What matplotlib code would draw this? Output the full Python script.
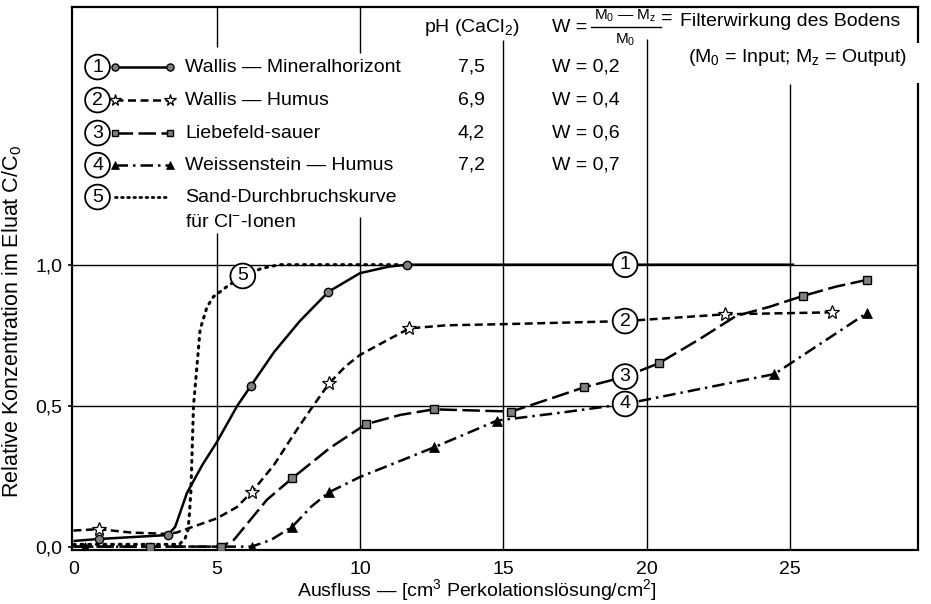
import matplotlib.pyplot as plt

plt.rcParams['font.family'] = ['Liberation Sans', 'DejaVu Sans']
plt.rcParams['mathtext.fontset'] = 'custom'
plt.rcParams['mathtext.rm'] = 'Liberation Sans'
plt.rcParams['mathtext.it'] = 'Liberation Sans'

# --- data ---
# curve traces (drawn line) and measured points (markers)
x1_line = [0, 0.88, 3.29, 3.55, 3.96, 4.5, 5.0, 5.72, 6.19, 7.0, 7.9, 8.9, 10.0, 11.0, 11.65, 25.15]
y1_line = [0.02, 0.027, 0.041, 0.07, 0.19, 0.29, 0.37, 0.5, 0.57, 0.69, 0.80, 0.904, 0.97, 0.993, 1.0, 1.0]
x1_pts = [0.88, 3.29, 6.19, 8.9, 11.65]
y1_pts = [0.027, 0.041, 0.57, 0.904, 1.0]

x2_line = [0, 0.88, 2.0, 3.3, 3.6, 4.3, 5.0, 5.7, 6.22, 7.0, 7.7, 8.3, 8.92, 9.5, 10.0, 11.0, 11.72, 13, 15, 19.25, 22.74, 26.46]
y2_line = [0.057, 0.062, 0.05, 0.045, 0.05, 0.075, 0.10, 0.14, 0.193, 0.29, 0.40, 0.49, 0.579, 0.64, 0.68, 0.735, 0.774, 0.785, 0.789, 0.80, 0.824, 0.831]
x2_pts = [0.88, 6.22, 8.92, 11.72, 22.74, 26.46]
y2_pts = [0.062, 0.193, 0.579, 0.774, 0.824, 0.831]

x3_line = [0, 2.66, 5.16, 5.6, 6.75, 7.64, 8.95, 10.2, 11.4, 12.58, 15.28, 16.5, 17.82, 19.25, 20.42, 21.8, 23.12, 24.3, 25.45, 26.6, 27.68]
y3_line = [0.0, 0.0, 0.0, 0.024, 0.166, 0.243, 0.35, 0.434, 0.467, 0.487, 0.479, 0.52, 0.565, 0.603, 0.65, 0.733, 0.818, 0.851, 0.889, 0.922, 0.946]
x3_pts = [2.66, 5.16, 7.64, 10.2, 12.58, 15.28, 17.82, 20.42, 25.45, 27.68]
y3_pts = [0.0, 0.0, 0.243, 0.434, 0.487, 0.479, 0.565, 0.65, 0.889, 0.946]

x4_line = [0, 0.4, 6.22, 6.9, 7.64, 8.3, 8.92, 10.0, 12.58, 14.78, 17.0, 19.25, 24.46, 27.68]
y4_line = [0.0, 0.0, 0.0, 0.024, 0.071, 0.142, 0.193, 0.247, 0.352, 0.447, 0.475, 0.506, 0.612, 0.828]
x4_pts = [0.4, 6.22, 7.64, 8.92, 12.58, 14.78, 24.46, 27.68]
y4_pts = [0.0, 0.0, 0.071, 0.193, 0.352, 0.447, 0.612, 0.828]

x5_line = [0, 3.7, 3.9, 4.0, 4.05, 4.1, 4.19, 4.31, 4.42, 4.66, 4.89, 5.12, 5.35, 5.91, 6.57, 7.2, 11.3]
y5_line = [0.008, 0.008, 0.03, 0.06, 0.12, 0.2, 0.5, 0.64, 0.77, 0.85, 0.887, 0.904, 0.922, 0.96, 0.987, 1.0, 1.0]

names = ['Wallis — Mineralhorizont', 'Wallis — Humus', 'Liebefeld-sauer', 'Weissenstein — Humus']
ph_values = ['7,5', '6,9', '4,2', '7,2']
w_values = ['W = 0,2', 'W = 0,4', 'W = 0,6', 'W = 0,7']
labels = ['1', '2', '3', '4', '5']
label_x = [19.25, 19.25, 19.25, 19.25, 5.91]
label_y = [1.0, 0.80, 0.603, 0.506, 0.96]

x_ticks = [0, 5, 10, 15, 20, 25]
y_ticks = [0.0, 0.5, 1.0]
y_ticklabels = ['0,0', '0,5', '1,0']

# --- styles ---
FS = 14
lw = 1.8
styles = [
    dict(ls='-', marker='o', ms=6, mfc='0.5', mec='black', mew=1.0),
    dict(ls=(0, (3.2, 1.8)), marker='*', ms=10, mfc='white', mec='black', mew=0.9),
    dict(ls=(0, (7, 2.2)), marker='s', ms=5.5, mfc='0.5', mec='black', mew=1.0),
    dict(ls=(0, (5, 2, 1, 2)), marker='^', ms=6.5, mfc='black', mec='black', mew=0.5),
]
circ = dict(boxstyle='circle,pad=0.2', fc='white', ec='black', lw=1.3)

fig = plt.figure(figsize=(9.31, 6.04), dpi=100)
ax = fig.add_axes([72 / 931, 54 / 604, 846 / 931, 543 / 604])
xmin, xmax = -0.05, 29.47
ymin, ymax = -0.012, 1.914
ax.set_xlim(xmin, xmax)
ax.set_ylim(ymin, ymax)

# grid (broken where the text sits)
ax.hlines([0.5, 1.0], xmin, xmax, color='black', lw=1.0, zorder=1)
ax.vlines([5, 10, 15, 20, 25], [ymin, ymin, ymin, ymin, ymin],
          [1.112, 1.169, 1.796, 1.80, 1.64], color='black', lw=1.0, zorder=1)
ax.vlines([5, 10], [1.772, 1.751], [ymax, ymax], color='black', lw=1.0, zorder=1)
ax.vlines([xmax, xmax], [ymin, 1.786], [1.644, ymax], color='black', lw=1.6, zorder=3, clip_on=False)

for s in ['left', 'bottom', 'top']:
    ax.spines[s].set_linewidth(1.6)
ax.spines['right'].set_visible(False)

lines_x = [x1_line, x2_line, x3_line, x4_line]
lines_y = [y1_line, y2_line, y3_line, y4_line]
pts_x = [x1_pts, x2_pts, x3_pts, x4_pts]
pts_y = [y1_pts, y2_pts, y3_pts, y4_pts]
for i in range(4):
    st = styles[i]
    ax.plot(lines_x[i], lines_y[i], color='black', lw=lw, ls=st['ls'], zorder=2,
            solid_capstyle='butt', dash_capstyle='butt')
    ax.plot(pts_x[i], pts_y[i], ls='none', marker=st['marker'], ms=st['ms'],
            mfc=st['mfc'], mec=st['mec'], mew=st['mew'], zorder=4)
ax.plot(x5_line, y5_line, color='black', lw=2.2, ls=(0, (0.6, 1.9)), zorder=2,
        dash_capstyle='round')

# circled curve labels
for lab, lx, ly in zip(labels, label_x, label_y):
    ax.text(lx, ly, lab, fontsize=FS, ha='center', va='center', zorder=5, bbox=circ)

# legend block
row_y = [1.701, 1.584, 1.467, 1.353, 1.24]
for i in range(5):
    ax.text(0.84, row_y[i], labels[i], fontsize=FS, ha='center', va='center', zorder=5, bbox=circ)
for i in range(4):
    st = styles[i]
    ax.plot([1.46, 3.38], [row_y[i], row_y[i]], color='black', lw=lw, ls=st['ls'],
            marker=st['marker'], ms=st['ms'] * 0.85, mfc=st['mfc'], mec=st['mec'], mew=st['mew'],
            zorder=4, dash_capstyle='butt')
    ax.text(3.9, row_y[i], names[i], fontsize=FS, ha='left', va='center')
    ax.text(14.36, row_y[i], ph_values[i], fontsize=FS, ha='right', va='center')
    ax.text(16.69, row_y[i], w_values[i], fontsize=FS, ha='left', va='center')
ax.plot([1.46, 3.38], [row_y[4], row_y[4]], color='black', lw=2.0, ls=(0, (0.6, 1.6)),
        dash_capstyle='round')
ax.text(3.9, row_y[4], 'Sand-Durchbruchskurve', fontsize=FS, ha='left', va='center')
ax.text(3.9, 1.15, 'für Cl$^{-}$-Ionen', fontsize=FS, ha='left', va='center')

# header: pH column and W = (M0 - Mz) / M0 = Filterwirkung des Bodens
ax.text(13.9, 1.843, 'pH (CaCl$_2$)', fontsize=FS, ha='center', va='center')
ax.text(16.69, 1.843, 'W =', fontsize=FS, ha='left', va='center')
ax.text(19.24, 1.884, 'M$_0$ — M$_z$', fontsize=11, ha='center', va='center')
ax.plot([18.05, 20.5], [1.842, 1.842], color='black', lw=1.0)
ax.text(19.24, 1.798, 'M$_0$', fontsize=11, ha='center', va='center')
ax.text(20.72, 1.874, '=', fontsize=FS, ha='center', va='center')
ax.text(21.15, 1.861, 'Filterwirkung des Bodens', fontsize=FS, ha='left', va='center')
ax.text(21.43, 1.736, '(M$_0$ = Input; M$_z$ = Output)', fontsize=FS, ha='left', va='center')

ax.set_xticks(x_ticks)
ax.set_xticklabels([str(t) for t in x_ticks])
ax.set_yticks(y_ticks)
ax.set_yticklabels(y_ticklabels)
ax.tick_params(axis='x', length=0, labelsize=FS, pad=8)
ax.tick_params(axis='y', length=3, width=1.2, labelsize=FS, pad=4)

ax.set_xlabel('Ausfluss — [cm$^3$ Perkolationslösung/cm$^2$]', fontsize=FS)
ax.xaxis.set_label_coords(0.479, -0.05)
ax.set_ylabel('Relative Konzentration im Eluat C/C$_0$', fontsize=15.5)
ax.yaxis.set_label_coords(-0.057, 0.42)

fig.savefig('out.png', dpi=100)
